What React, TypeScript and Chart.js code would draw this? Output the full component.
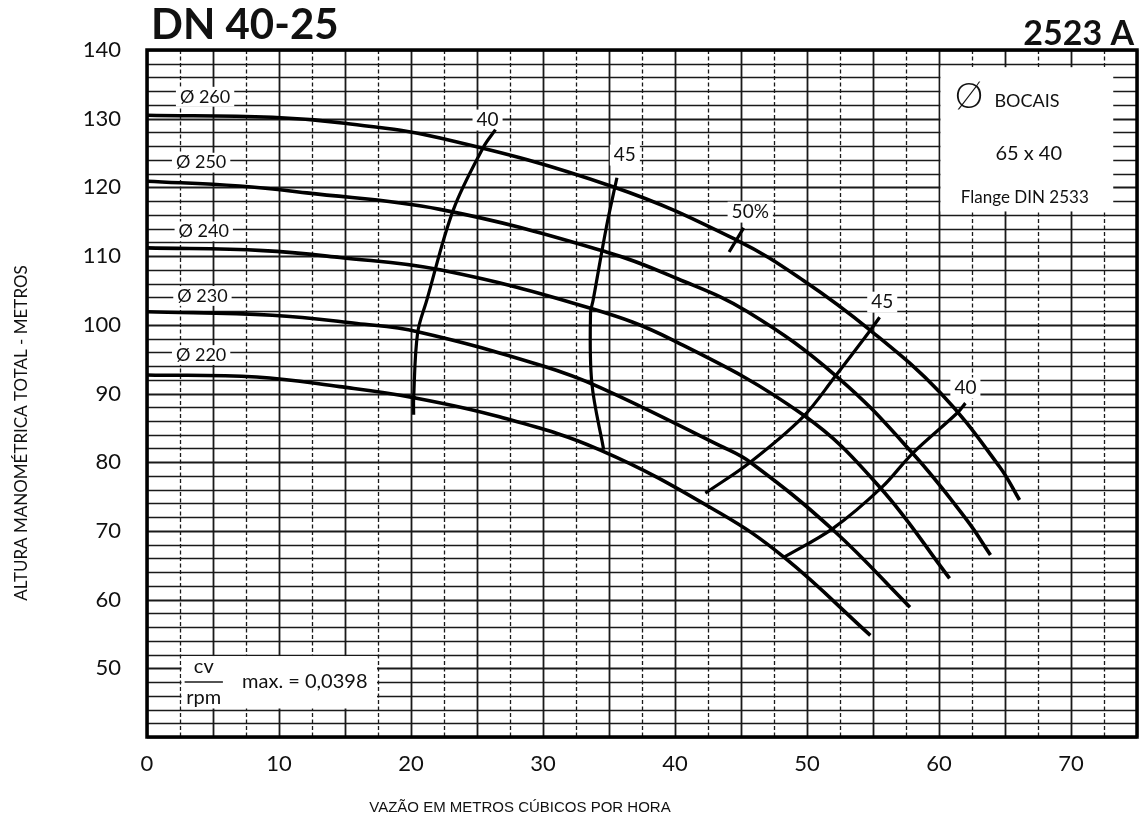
import React, { useEffect, useRef } from 'react';
import { Chart, registerables } from 'chart.js';

Chart.register(...registerables);

// ---- axes ----
const X_MIN = 0;
const X_MAX = 75;
const Y_MIN = 40;
const Y_MAX = 140;
const X_GRID_STEP = 2.5;
const Y_GRID_STEP = 2;
const X_TICK_LABELS = [0, 10, 20, 30, 40, 50, 60, 70];
const Y_TICK_LABELS = [50, 60, 70, 80, 90, 100, 110, 120, 130, 140];

// ---- head curves (Q in m3/h, H in m) ----
const D260_Q = [0, 9.5, 14.6, 22.2, 35.3, 44.7, 49.7, 54.8, 60.1, 64.6, 66.1];
const D260_H = [130.5, 130.2, 129.4, 127.2, 120.1, 112.3, 106.5, 99.2, 90.1, 79.3, 74.5];
const D250_Q = [0, 7.0, 12.1, 22.2, 34.8, 40.2, 45.5, 52.3, 58.0, 62.1, 63.9];
const D250_H = [120.9, 120.2, 119.2, 116.8, 110.6, 106.7, 101.9, 92.4, 81.3, 71.6, 66.5];
const D240_Q = [0, 8.8, 14.6, 22.2, 33.6, 39.8, 49.7, 55.5, 60.8];
const D240_H = [111.2, 110.8, 109.8, 108.0, 102.4, 97.8, 86.9, 76.4, 63.1];
const D230_Q = [0, 9.5, 15.9, 20.5, 30.0, 34.3, 43.4, 45.7, 52.0, 57.8];
const D230_H = [101.9, 101.4, 100.2, 99.0, 94.0, 90.9, 82.4, 80.0, 70.1, 58.9];
const D220_Q = [0, 8.3, 14.6, 20.2, 26.7, 34.3, 43.4, 48.3, 54.8];
const D220_H = [92.7, 92.4, 91.0, 89.4, 86.6, 81.8, 72.6, 66.1, 54.8];

// ---- efficiency lines ----
const EFF40L_Q = [26.4, 25.5, 23.2, 21.2, 20.5, 20.2, 20.2];
const EFF40L_H = [128.4, 125.9, 116.7, 103.6, 98.8, 89.3, 86.9];
const EFF45L_Q = [35.6, 34.8, 33.8, 33.6, 33.7, 34.6];
const EFF45L_H = [121.4, 114.2, 103.6, 101.7, 91.5, 81.8];
const EFF50_Q = [44.1, 45.2];
const EFF50_H = [110.6, 114.1];
const EFF45R_Q = [42.3, 45.7, 49.7, 52.1, 54.8, 55.5];
const EFF45R_H = [75.5, 80.0, 86.6, 92.4, 99.2, 101.1];
const EFF40R_Q = [48.2, 52.0, 55.7, 58.0, 61.4, 62.0];
const EFF40R_H = [66.1, 70.4, 76.4, 81.3, 87.2, 88.6];

// ---- labels ----
const CURVE_LABELS = ['Ø 260', 'Ø 250', 'Ø 240', 'Ø 230', 'Ø 220'];
const CURVE_LABEL_Q = [4.4, 4.1, 4.3, 4.2, 4.1];
const CURVE_LABEL_H = [133.2, 123.6, 113.6, 104.2, 95.6];
const EFF_LABELS = ['40', '45', '50%', '45', '40'];
const EFF_LABEL_Q = [25.8, 36.2, 45.7, 55.7, 62.0];
const EFF_LABEL_H = [129.8, 124.7, 116.4, 103.3, 90.8];

const TITLE = 'DN 40-25';
const CODE = '2523 A';
const Y_TITLE = 'ALTURA MANOMÉTRICA TOTAL - METROS';
const X_TITLE = 'VAZÃO EM METROS CÚBICOS POR HORA';
const BOX_TR = ['BOCAIS', '65 x 40', 'Flange DIN 2533'];
const BOX_BL = ['cv', 'rpm', 'max. = 0,0398'];

const FONT = 'Lato, "Open Sans", sans-serif';

const toPts = (q: number[], h: number[]) => q.map((v, i) => ({ x: v, y: h[i] }));

const paperPlugin = {
  id: 'paper',
  beforeDatasetsDraw(chart: any) {
    const { ctx, chartArea: a, scales } = chart;
    const xs = scales.x;
    const ys = scales.y;
    const px = (v: number) => xs.getPixelForValue(v);
    const py = (v: number) => ys.getPixelForValue(v);
    ctx.save();
    ctx.fillStyle = '#fff';
    ctx.fillRect(a.left, a.top, a.right - a.left, a.bottom - a.top);
    // horizontal grid
    ctx.strokeStyle = '#1a1a1a';
    for (let v = Y_MIN; v <= Y_MAX + 1e-9; v += Y_GRID_STEP) {
      const y = Math.round(py(v)) + 0.5;
      ctx.lineWidth = v % 10 === 0 ? 2 : 1.6;
      ctx.setLineDash([]);
      ctx.beginPath();
      ctx.moveTo(a.left, y);
      ctx.lineTo(a.right, y);
      ctx.stroke();
    }
    // vertical grid
    for (let v = X_MIN; v <= X_MAX + 1e-9; v += X_GRID_STEP) {
      const x = Math.round(px(v)) + 0.5;
      const major = Math.abs(v % 5) < 1e-9;
      ctx.lineWidth = major ? 1.8 : 1.3;
      ctx.setLineDash(major ? [] : [4, 2.5]);
      ctx.beginPath();
      ctx.moveTo(x, a.top);
      ctx.lineTo(x, a.bottom);
      ctx.stroke();
    }
    ctx.setLineDash([]);

    // white boxes
    ctx.fillStyle = '#fff';
    const trL = px(60) + 1.5, trR = px(73.2), trT = py(137.5), trB = py(116.5);
    ctx.fillRect(trL, trT, trR - trL, trB - trT);
    const blL = px(2.5) + 1.5, blR = px(17.5) - 1, blT = py(52) + 1.5, blB = py(44) - 1;
    ctx.fillRect(blL, blT, blR - blL, blB - blT);

    const label = (text: string, x: number, y: number, size: number) => {
      ctx.font = `${size}px ${FONT}`;
      const w = ctx.measureText(text).width;
      ctx.fillStyle = '#fff';
      ctx.fillRect(x - w / 2 - 4, y - size * 0.55, w + 8, size * 1.1);
      ctx.fillStyle = '#111';
      ctx.textAlign = 'center';
      ctx.textBaseline = 'middle';
      ctx.fillText(text, x, y);
    };
    CURVE_LABELS.forEach((t, i) => label(t, px(CURVE_LABEL_Q[i]), py(CURVE_LABEL_H[i]), 18));
    EFF_LABELS.forEach((t, i) => label(t, px(EFF_LABEL_Q[i]), py(EFF_LABEL_H[i]), 19));

    // top-right box text
    ctx.fillStyle = '#111';
    ctx.textBaseline = 'middle';
    ctx.textAlign = 'left';
    ctx.font = `300 36px ${FONT}`;
    ctx.fillText('Ø', px(61.2), py(133.2));
    ctx.font = `18px ${FONT}`;
    ctx.fillText(BOX_TR[0], px(64.2), py(132.6));
    ctx.textAlign = 'center';
    ctx.font = `20px ${FONT}`;
    ctx.fillText(BOX_TR[1], px(66.8), py(125.0));
    ctx.font = `17px ${FONT}`;
    ctx.fillText(BOX_TR[2], px(66.5), py(118.5));

    // bottom-left box text
    ctx.font = `20px ${FONT}`;
    ctx.textAlign = 'center';
    ctx.fillText(BOX_BL[0], px(4.3), py(50.2));
    ctx.fillText(BOX_BL[1], px(4.3), py(45.8));
    ctx.lineWidth = 1.6;
    ctx.beginPath();
    ctx.moveTo(px(2.85), py(48.0));
    ctx.lineTo(px(5.75), py(48.0));
    ctx.stroke();
    ctx.textAlign = 'left';
    ctx.fillText(BOX_BL[2], px(7.2), py(48.1));
    ctx.restore();
  },
  afterDatasetsDraw(chart: any) {
    const { ctx, chartArea: a } = chart;
    ctx.save();
    ctx.strokeStyle = '#000';
    ctx.lineWidth = 3.5;
    ctx.strokeRect(a.left, a.top, a.right - a.left, a.bottom - a.top);
    ctx.restore();
  },
  afterDraw(chart: any) {
    const { ctx } = chart;
    ctx.save();
    ctx.fillStyle = '#111';
    ctx.textBaseline = 'alphabetic';
    ctx.textAlign = 'left';
    ctx.font = `bold 42px ${FONT}`;
    ctx.fillText(TITLE, 151, 39);
    ctx.textAlign = 'right';
    ctx.font = `bold 34px ${FONT}`;
    ctx.fillText(CODE, 1134, 45);
    ctx.font = `17px ${FONT}`;
    ctx.textAlign = 'center';
    ctx.textBaseline = 'middle';
    ctx.save();
    ctx.translate(22, 433);
    ctx.rotate(-Math.PI / 2);
    ctx.fillText(Y_TITLE, 0, 0);
    ctx.restore();
    ctx.font = `15px "Liberation Sans", Arial, sans-serif`;
    ctx.fillText(X_TITLE, 520, 808);
    ctx.restore();
  },
};

export default function App() {
  const ref = useRef<HTMLCanvasElement | null>(null);
  useEffect(() => {
    if (!ref.current) return;
    const head = (q: number[], h: number[], label: string) => ({
      label,
      data: toPts(q, h),
      borderColor: '#000',
      borderWidth: 3.6,
      pointRadius: 0,
      fill: false,
      tension: 0.4,
    });
    const eff = (q: number[], h: number[], label: string) => ({
      label,
      data: toPts(q, h),
      borderColor: '#000',
      borderWidth: 3.2,
      pointRadius: 0,
      fill: false,
      tension: 0.35,
    });
    const chart = new Chart(ref.current, {
      type: 'line',
      data: {
        datasets: [
          head(D260_Q, D260_H, 'Ø 260'),
          head(D250_Q, D250_H, 'Ø 250'),
          head(D240_Q, D240_H, 'Ø 240'),
          head(D230_Q, D230_H, 'Ø 230'),
          head(D220_Q, D220_H, 'Ø 220'),
          eff(EFF40L_Q, EFF40L_H, '40%'),
          eff(EFF45L_Q, EFF45L_H, '45%'),
          eff(EFF50_Q, EFF50_H, '50%'),
          eff(EFF45R_Q, EFF45R_H, '45% (b)'),
          eff(EFF40R_Q, EFF40R_H, '40% (b)'),
        ],
      },
      options: {
        animation: false,
        responsive: true,
        maintainAspectRatio: false,
        layout: { padding: { left: 0, top: 50, right: 7, bottom: 0 } },
        plugins: { legend: { display: false }, tooltip: { enabled: false }, title: { display: false } },
        scales: {
          x: {
            type: 'linear',
            min: X_MIN,
            max: X_MAX,
            grid: { display: false, drawTicks: false },
            border: { display: false },
            ticks: {
              stepSize: X_GRID_STEP,
              autoSkip: false,
              maxRotation: 0,
              padding: 14,
              color: '#111',
              font: { family: FONT, size: 22 },
              callback: (v: any) => (X_TICK_LABELS.includes(Number(v)) ? String(v) : ''),
            },
            afterFit: (s: any) => {
              s.height = 86;
              s.paddingLeft = 0;
              s.paddingRight = 0;
            },
          },
          y: {
            type: 'linear',
            min: Y_MIN,
            max: Y_MAX,
            grid: { display: false, drawTicks: false },
            border: { display: false },
            ticks: {
              stepSize: Y_GRID_STEP,
              autoSkip: false,
              padding: 26,
              color: '#111',
              font: { family: FONT, size: 22 },
              callback: (v: any) => (Y_TICK_LABELS.includes(Number(v)) ? String(v) : ''),
            },
            afterFit: (s: any) => {
              s.width = 147;
              s.paddingTop = 0;
              s.paddingBottom = 0;
            },
          },
        },
      },
      plugins: [paperPlugin],
    });
    return () => chart.destroy();
  }, []);
  return (
    <div style={{ position: 'fixed', left: 0, top: 0, width: 1144, height: 823, background: '#fff' }}>
      <canvas ref={ref} />
    </div>
  );
}
